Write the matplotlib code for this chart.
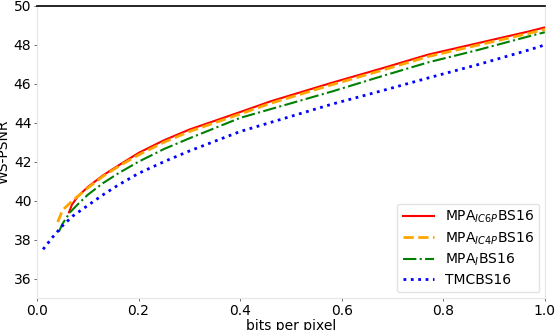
import matplotlib
matplotlib.use('Agg')
import matplotlib.pyplot as plt

# rate-distortion points
bpp_ic6p = [0.063, 0.069, 0.08, 0.1, 0.13, 0.16, 0.2, 0.25, 0.3, 0.4, 0.46, 0.58, 0.68, 0.77, 0.87, 0.97, 1.0]
psnr_ic6p = [39.4, 39.8, 40.2, 40.7, 41.3, 41.8, 42.45, 43.1, 43.65, 44.55, 45.1, 46.05, 46.8, 47.5, 48.1, 48.7, 48.9]

bpp_ic4p = [0.041, 0.05, 0.07, 0.1, 0.13, 0.16, 0.2, 0.25, 0.3, 0.4, 0.46, 0.58, 0.68, 0.77, 0.87, 0.97, 1.0]
psnr_ic4p = [38.9, 39.5, 40.0, 40.65, 41.25, 41.75, 42.35, 43.0, 43.55, 44.45, 45.0, 45.95, 46.7, 47.4, 48.0, 48.6, 48.8]

bpp_i = [0.043, 0.05, 0.065, 0.08, 0.1, 0.13, 0.16, 0.2, 0.25, 0.3, 0.4, 0.58, 0.68, 0.77, 0.87, 0.97, 1.0]
psnr_i = [38.4, 38.8, 39.4, 39.8, 40.3, 40.9, 41.4, 42.0, 42.65, 43.2, 44.25, 45.6, 46.4, 47.1, 47.75, 48.45, 48.65]

bpp_tmc = [0.012, 0.03, 0.05, 0.07, 0.1, 0.13, 0.16, 0.2, 0.25, 0.3, 0.4, 0.58, 0.68, 0.77, 0.87, 0.97, 1.0]
psnr_tmc = [37.5, 38.1, 38.7, 39.2, 39.75, 40.3, 40.8, 41.4, 42.0, 42.55, 43.55, 44.95, 45.65, 46.3, 47.0, 47.75, 48.0]

fig = plt.figure(figsize=(5.56, 3.3), dpi=100)
ax = fig.add_axes([0.0665, 0.097, 0.9135, 0.885])

ax.plot(bpp_ic6p, psnr_ic6p, color='red', linestyle='-', linewidth=1.5, label=r'MPA$_{IC6P}$BS16')
ax.plot(bpp_ic4p, psnr_ic4p, color='orange', linestyle='--', linewidth=2, label=r'MPA$_{IC4P}$BS16')
ax.plot(bpp_i, psnr_i, color='green', linestyle='-.', linewidth=1.5, label=r'MPA$_{I}$BS16')
ax.plot(bpp_tmc, psnr_tmc, color='blue', linestyle=':', linewidth=2, label='TMCBS16')

ax.set_xlim(0, 1.0)
ax.set_ylim(35, 50)
ax.set_xticks([0.0, 0.2, 0.4, 0.6, 0.8, 1.0])
ax.set_yticks([36, 38, 40, 42, 44, 46, 48, 50])
ax.tick_params(labelsize=10, length=2, width=0.6, color='#555555', pad=2)
ax.set_xlabel('bits per pixel', fontsize=10, labelpad=1)
ax.set_ylabel('WS-PSNR', fontsize=10, labelpad=2)

for side in ['left', 'right', 'bottom']:
    ax.spines[side].set_color('#e6e6e6')
ax.spines['top'].set_color('black')
ax.spines['top'].set_linewidth(1.2)

leg = ax.legend(loc='lower right', fontsize=10, frameon=True, handlelength=2.2,
                labelspacing=0.35, borderaxespad=0.4)
leg.get_frame().set_edgecolor('#dddddd')

fig.savefig('out.png', dpi=100)
